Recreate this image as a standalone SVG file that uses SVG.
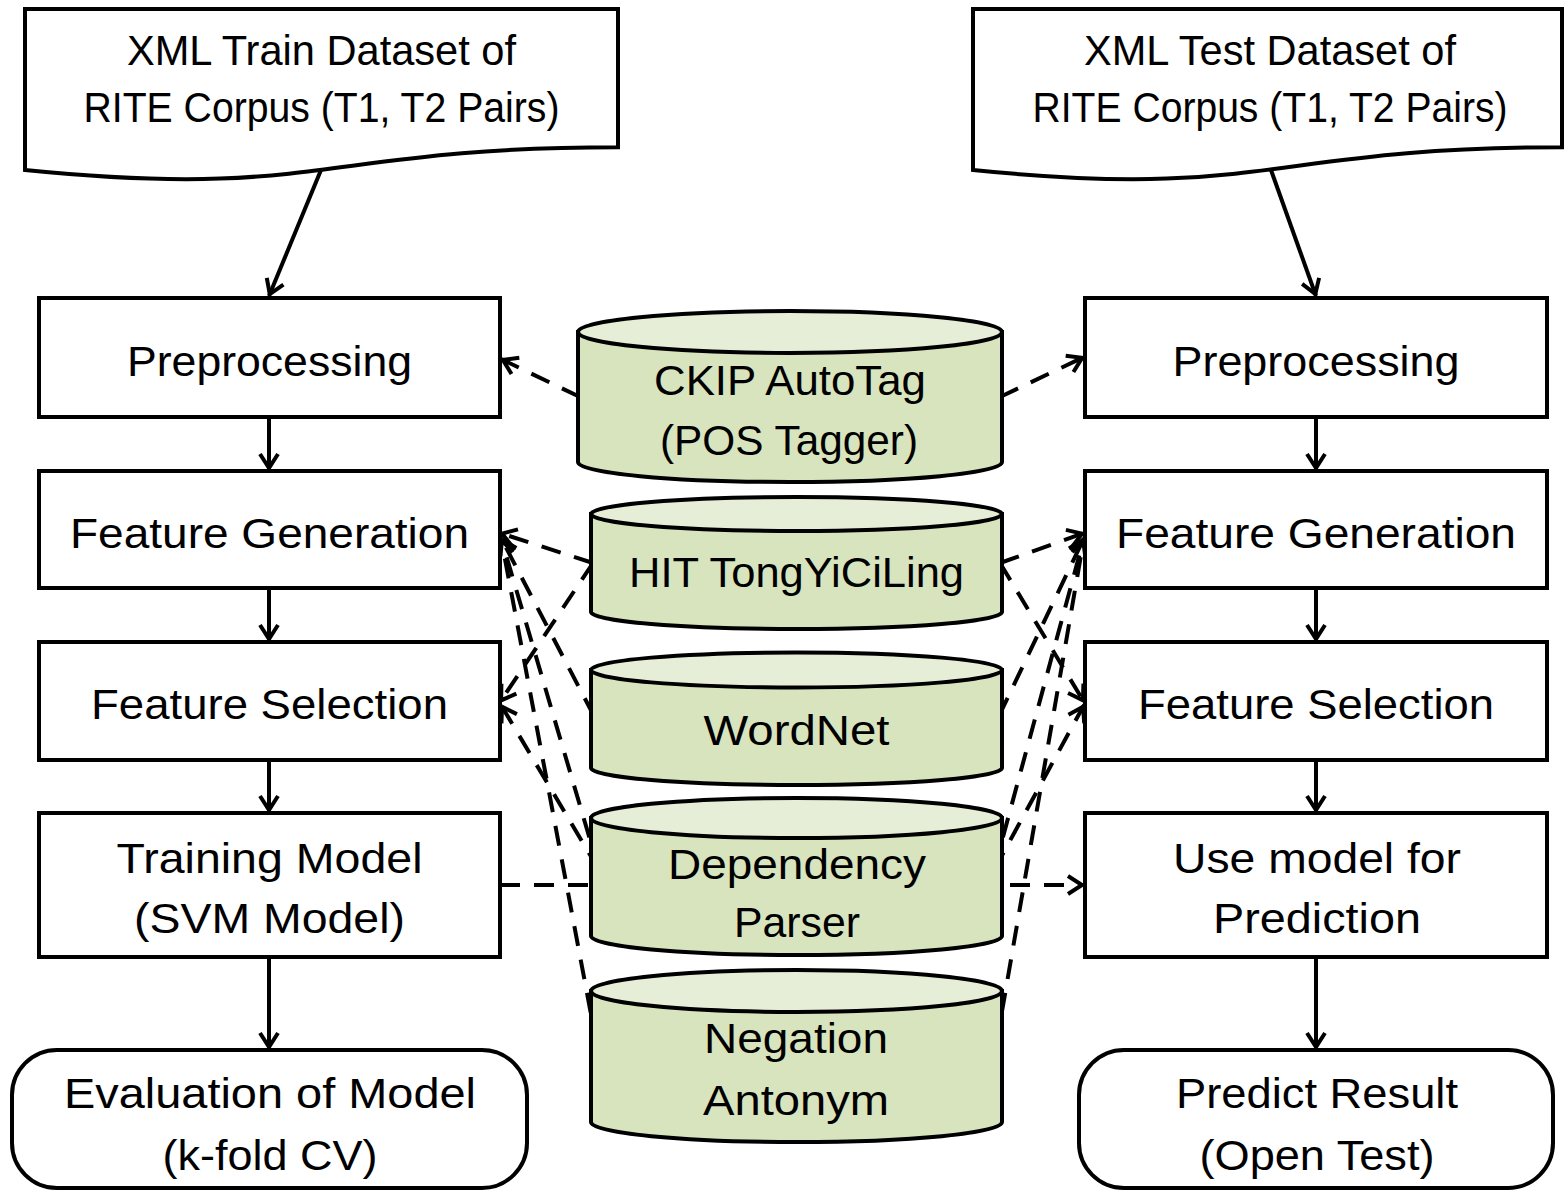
<svg xmlns="http://www.w3.org/2000/svg" width="1565" height="1192" viewBox="0 0 1565 1192">
<style>
text{font-family:"Liberation Sans",Arial,sans-serif;font-size:42px;fill:#000;text-anchor:middle}
.box{fill:#fff;stroke:#000;stroke-width:4}
.cyl{fill:#d7e4bd;stroke:#000;stroke-width:4}
.cyltop{fill:#e6eed8;stroke:#000;stroke-width:4}
.solid{fill:none;stroke:#000;stroke-width:4;marker-end:url(#ah)}
.dash{fill:none;stroke:#000;stroke-width:4;stroke-dasharray:20 14;marker-end:url(#ah)}
</style>
<defs>
<marker id="ah" markerUnits="userSpaceOnUse" viewBox="-18 -12 20 24" markerWidth="20" markerHeight="24" refX="0" refY="0" orient="auto">
<path d="M-16,-9 L-2,0 L-16,9" fill="none" stroke="#000" stroke-width="4" stroke-dasharray="none"/>
</marker>
</defs>
<rect width="1565" height="1192" fill="#fff"/>

<g id="connectors">
<path class="solid" d="M321,170 L269,296"/>
<path class="solid" d="M1271,170 L1316,296"/>
<path class="solid" d="M269,417 L269,470"/>
<path class="solid" d="M269,588 L269,641"/>
<path class="solid" d="M269,760 L269,812"/>
<path class="solid" d="M269,957 L269,1049"/>
<path class="solid" d="M1316,417 L1316,470"/>
<path class="solid" d="M1316,588 L1316,641"/>
<path class="solid" d="M1316,760 L1316,812"/>
<path class="solid" d="M1316,957 L1316,1049"/>
<path class="dash" d="M580,397 L501,359"/>
<path class="dash" d="M1000,397 L1084,357"/>
<path class="dash" d="M593,563 L500,533"/>
<path class="dash" d="M1000,563 L1084,533"/>
<path class="dash" d="M593,563 L500,702"/>
<path class="dash" d="M1000,563 L1084,702"/>
<path class="dash" d="M594,716 L501,538"/>
<path class="dash" d="M599,870 L501,538"/>
<path class="dash" d="M597,1046 L501,538"/>
<path class="dash" d="M599,870 L501,705"/>
<path class="dash" d="M999,716 L1084,538"/>
<path class="dash" d="M994,870 L1084,538"/>
<path class="dash" d="M996,1046 L1084,538"/>
<path class="dash" d="M994,870 L1084,705"/>
<path class="dash" d="M500,885 L1084,885"/>
</g>

<g id="train-dataset">
<path class="box" d="M25,9 H618 V147.3 C321.5,147.3 321.5,199.9 25,170 Z"/>
<text x="321.5" y="65" textLength="389" lengthAdjust="spacingAndGlyphs">XML Train Dataset of</text>
<text x="321.5" y="122" textLength="476" lengthAdjust="spacingAndGlyphs">RITE Corpus (T1, T2 Pairs)</text>
</g>
<g id="test-dataset">
<path class="box" d="M973,9 H1562 V147.3 C1267.5,147.3 1267.5,199.9 973,170 Z"/>
<text x="1270" y="65" textLength="372" lengthAdjust="spacingAndGlyphs">XML Test Dataset of</text>
<text x="1270" y="122" textLength="475" lengthAdjust="spacingAndGlyphs">RITE Corpus (T1, T2 Pairs)</text>
</g>

<g id="left-preprocessing">
<rect class="box" x="39" y="298" width="461" height="119"/>
<text x="269.5" y="376" textLength="285" lengthAdjust="spacingAndGlyphs">Preprocessing</text>
</g>
<g id="left-feature-generation">
<rect class="box" x="39" y="471" width="461" height="117"/>
<text x="269.5" y="548" textLength="399" lengthAdjust="spacingAndGlyphs">Feature Generation</text>
</g>
<g id="left-feature-selection">
<rect class="box" x="39" y="642" width="461" height="118"/>
<text x="269.5" y="719" textLength="357" lengthAdjust="spacingAndGlyphs">Feature Selection</text>
</g>
<g id="training-model">
<rect class="box" x="39" y="813" width="461" height="144"/>
<text x="269.5" y="873" textLength="306" lengthAdjust="spacingAndGlyphs">Training Model</text>
<text x="269.5" y="933" textLength="271" lengthAdjust="spacingAndGlyphs">(SVM Model)</text>
</g>
<g id="evaluation">
<rect class="box" x="12" y="1050" width="515" height="138" rx="45" ry="45"/>
<text x="270" y="1108" textLength="412" lengthAdjust="spacingAndGlyphs">Evaluation of Model</text>
<text x="270" y="1170" textLength="215" lengthAdjust="spacingAndGlyphs">(k-fold CV)</text>
</g>

<g id="right-preprocessing">
<rect class="box" x="1085" y="298" width="462" height="119"/>
<text x="1316" y="376" textLength="287" lengthAdjust="spacingAndGlyphs">Preprocessing</text>
</g>
<g id="right-feature-generation">
<rect class="box" x="1085" y="471" width="462" height="117"/>
<text x="1316" y="548" textLength="400" lengthAdjust="spacingAndGlyphs">Feature Generation</text>
</g>
<g id="right-feature-selection">
<rect class="box" x="1085" y="642" width="462" height="118"/>
<text x="1316" y="719" textLength="356" lengthAdjust="spacingAndGlyphs">Feature Selection</text>
</g>
<g id="use-model">
<rect class="box" x="1085" y="813" width="462" height="144"/>
<text x="1317" y="873" textLength="288" lengthAdjust="spacingAndGlyphs">Use model for</text>
<text x="1317" y="933" textLength="208" lengthAdjust="spacingAndGlyphs">Prediction</text>
</g>
<g id="predict-result">
<rect class="box" x="1079" y="1050" width="474" height="138" rx="45" ry="45"/>
<text x="1317" y="1108" textLength="282" lengthAdjust="spacingAndGlyphs">Predict Result</text>
<text x="1317" y="1170" textLength="235" lengthAdjust="spacingAndGlyphs">(Open Test)</text>
</g>

<g id="ckip">
<path class="cyl" d="M578,332 V462 A212,20 0 0 0 1002,462 V332 Z"/>
<ellipse class="cyltop" cx="790" cy="332" rx="212" ry="21"/>
<text x="790" y="395" textLength="272" lengthAdjust="spacingAndGlyphs">CKIP AutoTag</text>
<text x="789" y="455" textLength="258" lengthAdjust="spacingAndGlyphs">(POS Tagger)</text>
</g>
<g id="hit">
<path class="cyl" d="M591,514 V612 A205.5,17 0 0 0 1002,612 V514 Z"/>
<ellipse class="cyltop" cx="796.5" cy="514" rx="205.5" ry="17"/>
<text x="796.5" y="587" textLength="335" lengthAdjust="spacingAndGlyphs">HIT TongYiCiLing</text>
</g>
<g id="wordnet">
<path class="cyl" d="M591,670 V768 A205.5,17 0 0 0 1002,768 V670 Z"/>
<ellipse class="cyltop" cx="796.5" cy="670" rx="205.5" ry="17.5"/>
<text x="796.5" y="745" textLength="186" lengthAdjust="spacingAndGlyphs">WordNet</text>
</g>
<g id="dependency">
<path class="cyl" d="M591,818 V936 A205.5,19 0 0 0 1002,936 V818 Z"/>
<ellipse class="cyltop" cx="796.5" cy="818" rx="205.5" ry="20"/>
<text x="797" y="879" textLength="258" lengthAdjust="spacingAndGlyphs">Dependency</text>
<text x="797" y="937" textLength="126" lengthAdjust="spacingAndGlyphs">Parser</text>
</g>
<g id="negation">
<path class="cyl" d="M591,991 V1122 A205.5,20 0 0 0 1002,1122 V991 Z"/>
<ellipse class="cyltop" cx="796.5" cy="991" rx="205.5" ry="21"/>
<text x="796" y="1053" textLength="184" lengthAdjust="spacingAndGlyphs">Negation</text>
<text x="796" y="1115" textLength="186" lengthAdjust="spacingAndGlyphs">Antonym</text>
</g>
</svg>
